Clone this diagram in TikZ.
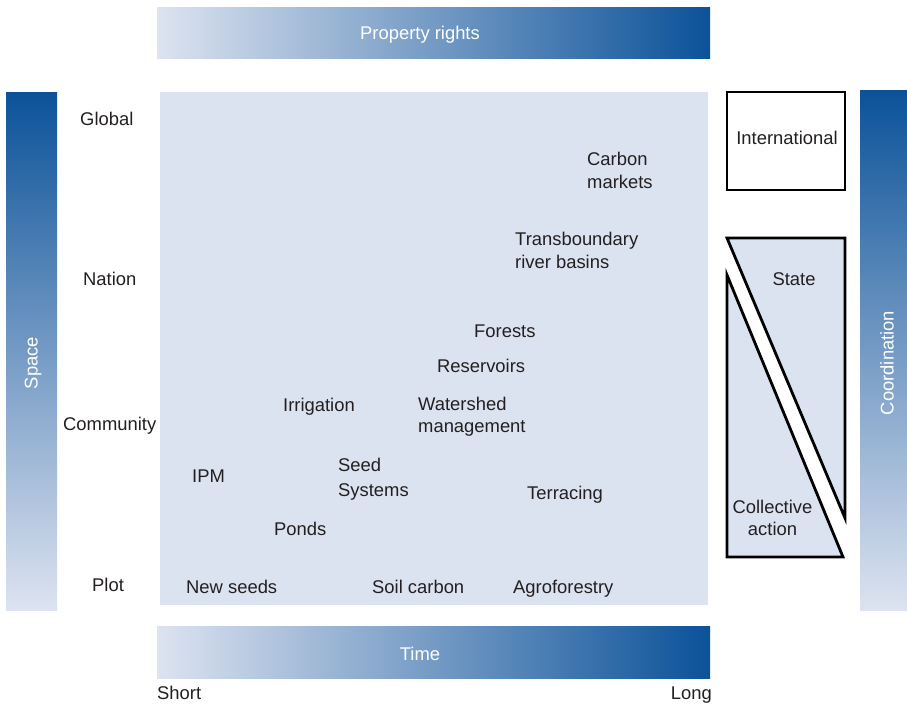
\documentclass[tikz,border=0pt]{standalone}
\usepackage{fontspec}
\setmainfont{Liberation Sans}
\definecolor{lightb}{RGB}{221,227,240}
\definecolor{midb}{RGB}{118,146,195}
\definecolor{darkb}{RGB}{11,82,153}
\definecolor{panel}{RGB}{220,227,240}
\definecolor{txt}{RGB}{35,31,32}
\tikzset{
  lbl/.style={font=\fontsize{18.4}{23}\selectfont, text=txt, inner sep=0pt, anchor=base west, align=left},
  wlbl/.style={font=\fontsize{18.4}{23}\selectfont, text=white, inner sep=0pt},
  hbar/.style={left color=lightb, middle color=midb, right color=darkb, draw=none},
  vbar/.style={top color=darkb, middle color=midb, bottom color=lightb, draw=none},
  outl/.style={draw=black, line width=2.8pt, line join=miter}
}
\begin{document}
\begin{tikzpicture}[x=1pt,y=-1pt]
\useasboundingbox (0,0) rectangle (907,704);
% gradient bars
\shade[hbar] (157,7) rectangle (710,58);
\shade[hbar] (157,626) rectangle (710,678);
\shade[vbar] (6,92) rectangle (57,610);
\shade[vbar] (860,90) rectangle (907,610);
\node[wlbl] (prop) at (420,35) {Property rights};
\node[wlbl] (time) at (420,654) {Time};
\node[wlbl, rotate=90] (space) at (33,363) {Space};
\node[wlbl, rotate=90] (coord) at (887,363) {Coordination};
% main panel
\fill[panel] (160,92) rectangle (708,605);
% axis labels
\node[lbl] (global) at (80,125) {Global};
\node[lbl] (nation) at (83,285) {Nation};
\node[lbl] (community) at (63,430) {Community};
\node[lbl] (plot) at (92,591) {Plot};
\node[lbl] (short) at (157,699) {Short};
\node[lbl, anchor=base east] (long) at (712,699) {Long};
% items (multi-line: base = last line)
\node[lbl] (carbon) at (587,188.5) {Carbon\\markets};
\node[lbl] (trans) at (515,268) {Transboundary\\river basins};
\node[lbl] (forests) at (474,337) {Forests};
\node[lbl] (reserv) at (437,372) {Reservoirs};
\node[lbl] (irrig) at (283,411) {Irrigation};
\node[lbl, font=\fontsize{18.4}{22}\selectfont] (water) at (418,432) {Watershed\\management};
\node[lbl] (ipm) at (192,482) {IPM};
\node[lbl, font=\fontsize{18.4}{24.5}\selectfont] (seed) at (338,496) {Seed\\Systems};
\node[lbl] (terr) at (527,499) {Terracing};
\node[lbl] (ponds) at (274,535) {Ponds};
\node[lbl] (newseeds) at (186,593) {New seeds};
\node[lbl] (soil) at (372,593) {Soil carbon};
\node[lbl] (agro) at (513,593) {Agroforestry};
% right side shapes
\draw[outl, fill=white] (727,92) rectangle (845,190);
\node[lbl, anchor=base] (intl) at (787,144) {International};
\draw[outl, fill=panel] (727,238) -- (845,238) -- (845,518) -- cycle;
\node[lbl, anchor=base] (state) at (794,285) {State};
\draw[outl, fill=panel] (727,275) -- (843,557) -- (727,557) -- cycle;
\node[lbl, anchor=base, align=center, font=\fontsize{18.4}{22}\selectfont] (coll) at (772.5,535) {Collective\\action};
\end{tikzpicture}
\end{document}
